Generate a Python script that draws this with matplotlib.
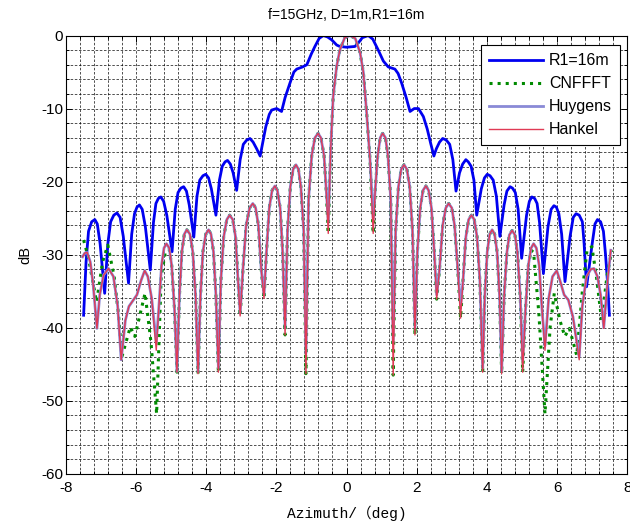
import matplotlib
matplotlib.use("Agg")
import matplotlib.pyplot as plt
from matplotlib.ticker import MultipleLocator

plt.rcParams["axes.unicode_minus"] = False

# --- datos (azimut en grados, nivel en dB) ---
R1_AZ = [-7.49, -7.42, -7.35, -7.26, -7.17, -7.10, -7.02, -6.89,
         -6.80, -6.72, -6.63, -6.54, -6.45, -6.36, -6.21,
         -6.12, -6.04, -5.97, -5.90, -5.82, -5.73, -5.59,
         -5.50, -5.43, -5.36, -5.29, -5.21, -5.12, -4.97,
         -4.88, -4.80, -4.72, -4.64, -4.56, -4.48, -4.35,
         -4.26, -4.18, -4.09, -4.01, -3.93, -3.85, -3.72,
         -3.62, -3.54, -3.46, -3.39, -3.31, -3.23, -3.13,
         -3.03, -2.94, -2.84, -2.75, -2.66, -2.56, -2.46,
         -2.38, -2.30, -2.20, -2.13, -1.99, -1.85, -1.75, -1.61, -1.50, -1.42,
         -1.25, -1.13, -1.00, -0.90, -0.78, -0.66, -0.54, -0.42, -0.28, -0.19,
         0.00, 0.24, 0.34, 0.45, 0.62, 0.75, 0.905, 1.05, 1.19, 1.38,
         1.47, 1.57, 1.70, 1.81, 1.93, 2.05, 2.19, 2.30, 2.40, 2.49,
         2.56, 2.65, 2.74, 2.84, 2.94, 3.03, 3.12,
         3.22, 3.31, 3.40, 3.47, 3.55, 3.63, 3.71,
         3.84, 3.93, 4.01, 4.09, 4.18, 4.27, 4.37,
         4.49, 4.57, 4.66, 4.73, 4.81, 4.89, 4.99,
         5.13, 5.21, 5.28, 5.36, 5.43, 5.50, 5.61,
         5.74, 5.83, 5.91, 5.98, 6.05, 6.13, 6.225,
         6.37, 6.46, 6.54, 6.63, 6.72, 6.77, 6.84,
         7.00, 7.08, 7.15, 7.24, 7.32, 7.38, 7.44, 7.49]
R1_DB = [-38.3, -31.0, -26.8, -25.5, -25.2, -25.8, -28.5, -35.3,
         -28.5, -25.5, -24.6, -24.3, -24.9, -27.5, -33.9,
         -27.2, -24.4, -23.5, -23.2, -23.8, -26.2, -32.1,
         -25.6, -23.0, -22.3, -22.1, -22.7, -24.6, -29.6,
         -23.8, -21.5, -20.9, -20.7, -21.3, -23.2, -27.6,
         -22.0, -19.8, -19.2, -19.0, -19.5, -21.0, -24.6,
         -19.8, -17.9, -17.3, -17.1, -17.6, -18.8, -21.2,
         -17.0, -14.9, -14.3, -14.1, -14.6, -15.5, -16.5,
         -14.5, -12.5, -10.8, -10.2, -10.0, -10.4, -8.5, -6.5, -5.0, -4.6,
         -4.3, -4.0, -2.5, -1.5, -0.4, 0.0, -0.2, -0.6, -1.3, -1.5,
         -1.6, -1.5, -1.0, -0.3, 0.0, -0.5, -2.0, -3.5, -4.3, -4.6,
         -5.2, -6.5, -8.5, -10.4, -10.0, -10.0, -11.1, -12.8, -14.8, -16.5,
         -15.5, -14.6, -14.1, -14.3, -14.9, -17.0, -21.3,
         -18.8, -17.6, -17.0, -17.3, -17.9, -19.8, -24.6,
         -21.0, -19.5, -19.0, -19.2, -19.8, -22.0, -27.5,
         -23.2, -21.3, -20.7, -20.9, -21.5, -23.8, -30.5,
         -24.6, -22.7, -22.1, -22.3, -23.0, -25.6, -32.6,
         -26.2, -23.8, -23.3, -23.5, -24.4, -27.2, -33.7,
         -27.5, -24.9, -24.4, -24.6, -25.5, -28.5, -34.4,
         -28.5, -25.8, -25.2, -25.5, -26.8, -30.0, -34.0, -38.3]

# Huygens y Hankel comparten los azimuts (un renglon por lobulo)
AZ = [-7.52, -7.46, -7.39, -7.30, -7.22,
      -7.11, -7.03, -6.92, -6.78, -6.64, -6.52,
      -6.42, -6.30, -6.20, -5.97, -5.85, -5.75, -5.66, -5.55,
      -5.42, -5.35, -5.27, -5.20, -5.13, -5.05, -4.98, -4.90,
      -4.83, -4.76, -4.69, -4.62, -4.55, -4.46, -4.38, -4.30,
      -4.23, -4.16, -4.09, -4.01, -3.93, -3.86, -3.79, -3.72,
      -3.65, -3.58, -3.50, -3.41, -3.33, -3.24, -3.16, -3.09,
      -3.03, -2.95, -2.86, -2.76, -2.67, -2.59, -2.51, -2.43,
      -2.35, -2.28, -2.20, -2.12, -2.04, -1.97, -1.89, -1.82,
      -1.75, -1.68, -1.60, -1.52, -1.44, -1.37, -1.30, -1.22,
      -1.155, -1.08, -0.99, -0.90, -0.81, -0.73, -0.64, -0.58,
      -0.52, -0.45, -0.38, -0.28, -0.19, -0.05, 0.10, 0.25, 0.385, 0.48, 0.575, 0.67,
      0.76, 0.82, 0.89, 0.96, 1.03, 1.11, 1.18, 1.26,
      1.33, 1.40, 1.48, 1.56, 1.64, 1.72, 1.80, 1.88,
      1.95, 2.02, 2.10, 2.18, 2.26, 2.34, 2.42, 2.50,
      2.57, 2.65, 2.74, 2.83, 2.91, 3.00, 3.08, 3.17,
      3.25, 3.32, 3.40, 3.48, 3.56, 3.64, 3.72, 3.80,
      3.88, 3.94, 4.01, 4.08, 4.15, 4.22, 4.29, 4.36,
      4.42, 4.49, 4.57, 4.64, 4.72, 4.80, 4.87, 4.95,
      5.02, 5.10, 5.18, 5.26, 5.33, 5.41, 5.49, 5.57,
      5.655, 5.76, 5.87, 5.99, 6.08, 6.20, 6.32, 6.45,
      6.63, 6.72, 6.84, 6.96, 7.05, 7.15, 7.24,
      7.33, 7.45, 7.53]
HANKEL_DB = [-30.3, -29.8, -29.7, -31.0, -34.0,
             -40.1, -35.5, -32.8, -31.9, -33.0, -37.0,
             -44.4, -39.0, -37.1, -35.5, -33.5, -32.2, -33.0, -36.0,
             -43.1, -37.5, -31.5, -29.1, -28.5, -29.1, -31.5, -37.5,
             -46.1, -35.6, -29.6, -27.2, -26.6, -27.2, -29.6, -35.6,
             -46.3, -35.6, -29.6, -27.2, -26.6, -27.2, -29.6, -35.6,
             -46.1, -33.6, -27.6, -25.2, -24.6, -25.2, -27.6, -33.6,
             -38.4, -32.0, -26.0, -23.6, -23.0, -23.6, -26.0, -32.0,
             -36.0, -29.6, -23.6, -21.2, -20.6, -21.2, -23.6, -29.6,
             -41.0, -26.7, -20.7, -18.3, -17.7, -18.3, -20.7, -26.7,
             -46.3, -22.4, -16.4, -14.0, -13.4, -14.0, -16.4, -21.0,
             -27.1, -15.5, -8.4, -4.2, -2.0, -0.3, 0.0, -0.4, -2.3, -5.0, -10.7, -17.0,
             -27.1, -21.0, -16.4, -14.0, -13.4, -14.0, -16.4, -22.4,
             -46.5, -26.7, -20.7, -18.3, -17.7, -18.3, -20.7, -26.7,
             -41.0, -29.6, -23.6, -21.2, -20.6, -21.2, -23.6, -29.6,
             -36.1, -32.0, -26.0, -23.6, -23.0, -23.6, -26.0, -32.0,
             -38.7, -33.6, -27.6, -25.2, -24.6, -25.2, -27.6, -33.6,
             -46.1, -35.6, -29.6, -27.2, -26.6, -27.2, -29.6, -35.6,
             -46.3, -35.7, -29.7, -27.3, -26.7, -27.3, -29.7, -35.7,
             -46.1, -37.5, -31.5, -29.1, -28.5, -29.1, -31.5, -37.5,
             -43.1, -36.0, -33.0, -32.2, -33.5, -35.5, -36.2, -38.5,
             -44.4, -37.0, -33.0, -32.0, -31.9, -33.0, -35.5,
             -40.1, -33.0, -29.4]
HUYGENS_DB = [-30.3, -29.8, -29.7, -31.0, -34.0,
              -40.1, -35.5, -32.8, -31.9, -33.0, -37.0,
              -44.4, -39.0, -37.1, -35.5, -33.5, -32.2, -33.0, -36.0,
              -42.0, -37.5, -31.5, -29.1, -28.5, -29.1, -31.5, -37.5,
              -46.0, -35.6, -29.6, -27.2, -26.6, -27.2, -29.6, -35.6,
              -46.0, -35.6, -29.6, -27.2, -26.6, -27.2, -29.6, -35.6,
              -45.5, -33.6, -27.6, -25.2, -24.6, -25.2, -27.6, -33.6,
              -38.0, -32.0, -26.0, -23.6, -23.0, -23.6, -26.0, -32.0,
              -35.5, -29.6, -23.6, -21.2, -20.6, -21.2, -23.6, -29.6,
              -40.0, -26.7, -20.7, -18.3, -17.7, -18.3, -20.7, -26.7,
              -43.5, -22.4, -16.4, -14.0, -13.4, -14.0, -16.4, -21.0,
              -25.5, -15.5, -8.4, -4.2, -2.0, -0.3, 0.0, -0.4, -2.3, -5.0, -10.7, -17.0,
              -25.0, -21.0, -16.4, -14.0, -13.4, -14.0, -16.4, -22.4,
              -42.0, -26.7, -20.7, -18.3, -17.7, -18.3, -20.7, -26.7,
              -40.0, -29.6, -23.6, -21.2, -20.6, -21.2, -23.6, -29.6,
              -35.5, -32.0, -26.0, -23.6, -23.0, -23.6, -26.0, -32.0,
              -37.0, -33.6, -27.6, -25.2, -24.6, -25.2, -27.6, -33.6,
              -45.5, -35.6, -29.6, -27.2, -26.6, -27.2, -29.6, -35.6,
              -46.0, -35.7, -29.7, -27.3, -26.7, -27.3, -29.7, -35.7,
              -44.5, -37.5, -31.5, -29.1, -28.5, -29.1, -31.5, -37.5,
              -42.5, -36.0, -33.0, -32.2, -33.5, -35.5, -36.2, -38.5,
              -44.0, -37.0, -33.0, -32.0, -31.9, -33.0, -35.5,
              -40.0, -33.0, -29.4]

# CNFFFT: bordes propios; en el centro coincide con la solucion exacta
CNF_LEFT_AZ = [-7.49, -7.35, -7.12, -6.95, -6.80, -6.62, -6.50, -6.40, -6.16, -6.03,
               -5.74, -5.57, -5.41, -5.28, -5.16, -5.05, -4.98, -4.90]
CNF_LEFT_DB = [-28.0, -30.5, -36.5, -31.0, -28.7, -33.0, -38.0, -44.0, -39.9, -41.2,
               -35.3, -42.0, -51.8, -33.0, -29.6, -29.3, -31.5, -37.5]
CNF_RIGHT_AZ = [5.10, 5.18, 5.26, 5.33, 5.48, 5.655, 5.80, 5.92, 6.08, 6.22, 6.35,
                6.56, 6.72, 6.85, 6.99, 7.12, 7.27, 7.42, 7.56]
CNF_RIGHT_DB = [-37.5, -31.5, -29.4, -29.7, -38.0, -51.8, -40.0, -35.3, -39.0, -41.2, -40.1,
                -43.8, -35.0, -29.5, -28.9, -33.0, -39.0, -33.0, -29.4]

TITULO = "f=15GHz, D=1m,R1=16m"
ETIQUETAS = ["R1=16m", "CNFFFT", "Huygens", "Hankel"]


def configurar_ejes(ax):
    ax.set_xlim(-8, 8)
    ax.set_ylim(-60, 0)
    ax.xaxis.set_major_locator(MultipleLocator(2))
    ax.xaxis.set_minor_locator(MultipleLocator(0.4))
    ax.yaxis.set_major_locator(MultipleLocator(10))
    ax.yaxis.set_minor_locator(MultipleLocator(2))
    ax.tick_params(which="both", direction="in", top=True, right=True,
                   labelsize=11, width=0.7)
    ax.tick_params(which="major", length=4)
    ax.tick_params(which="minor", length=2)
    ax.tick_params(axis="x", pad=5)
    ax.tick_params(axis="y", pad=2)
    for lab in ax.get_xticklabels() + ax.get_yticklabels():
        lab.set_fontfamily("Liberation Sans")
    ax.grid(True, which="both", color="black", linewidth=0.6,
            linestyle=(0, (3, 2)), alpha=0.8)
    ax.set_axisbelow(True)
    for sp in ax.spines.values():
        sp.set_linewidth(0.8)


def graficar():
    fig = plt.figure(figsize=(6.3, 5.27), dpi=100)
    ax = fig.add_axes([0.1043, 0.1011, 0.8914, 0.8315])

    centro = [(a, d) for a, d in zip(AZ, HANKEL_DB) if -4.85 < a < 5.05]
    cnf_az = CNF_LEFT_AZ + [c[0] for c in centro] + CNF_RIGHT_AZ
    cnf_db = CNF_LEFT_DB + [c[1] for c in centro] + CNF_RIGHT_DB

    ax.plot(R1_AZ, R1_DB, color="#0000f0", linewidth=2.0, label=ETIQUETAS[0])
    ax.plot(cnf_az, cnf_db, color="#008a00", linewidth=2.2, linestyle=":",
            label=ETIQUETAS[1])
    ax.plot(AZ, HUYGENS_DB, color="#8a8ad6", linewidth=2.0, label=ETIQUETAS[2])
    ax.plot(AZ, HANKEL_DB, color="#e03a55", linewidth=1.0, label=ETIQUETAS[3])

    configurar_ejes(ax)

    ax.set_title(TITULO, fontsize=10, fontfamily="Liberation Sans", pad=12)
    ax.set_xlabel("Azimuth/（deg)", fontsize=10.5,
                  fontfamily=["Liberation Mono", "Noto Sans CJK SC"], labelpad=8)
    ax.set_ylabel("dB", fontsize=10.5, fontfamily="Liberation Sans", labelpad=6)

    leg = ax.legend(loc="upper right", bbox_to_anchor=(0.987, 0.978),
                    borderaxespad=0, fancybox=False, framealpha=1,
                    edgecolor="black", handlelength=3.4, handletextpad=0.35,
                    labelspacing=0.5, borderpad=0.5,
                    prop={"family": "Liberation Sans", "size": 11.5})
    leg.get_frame().set_linewidth(0.8)

    fig.savefig("out.png", dpi=100)
    print("[Grafica guardada como 'out.png']")


def main():
    graficar()


if __name__ == "__main__":
    main()
